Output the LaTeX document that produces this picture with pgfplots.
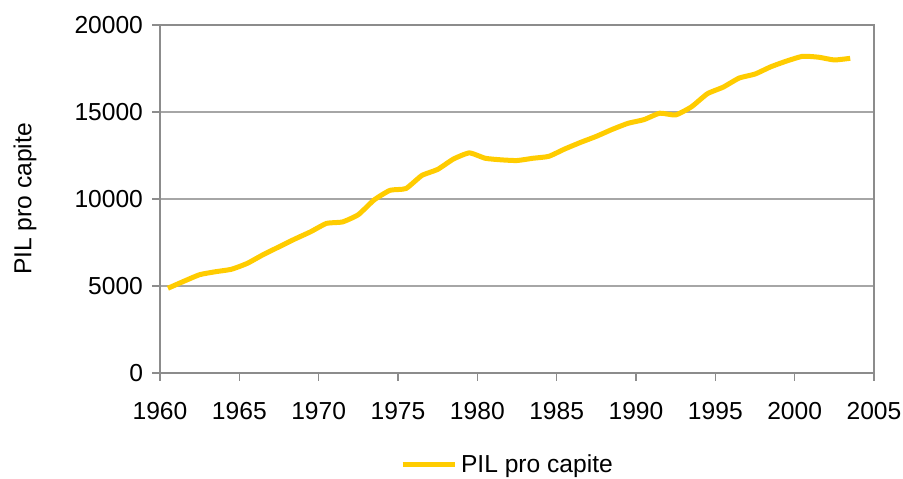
\documentclass[border=0pt]{standalone}
\usepackage{fontspec}
\setmainfont{Liberation Sans}
\usepackage{pgfplots}
\pgfplotsset{compat=1.18}
\definecolor{pilyellow}{HTML}{FFCC00}
\definecolor{axgray}{HTML}{8C8C8C}
\definecolor{gridgray}{HTML}{A6A6A6}
\begin{document}
\begin{tikzpicture}[font=\fontsize{12.3}{14}\selectfont]
\begin{axis}[
  name=ax,
  scale only axis,
  width=357pt, height=174pt,
  xmin=1960, xmax=2005,
  ymin=0, ymax=20000,
  xtick={1960,1965,...,2005},
  ytick={0,5000,10000,15000,20000},
  scaled ticks=false,
  /pgf/number format/1000 sep={},
  /pgf/number format/assume math mode=true,
  tick align=outside,
  major tick length=4pt,
  xtick pos=bottom, ytick pos=left,
  ymajorgrids,
  grid style={gridgray, line width=0.6pt},
  axis line style={axgray, line width=0.8pt},
  tick style={axgray, line width=0.8pt},
  xticklabel style={yshift=-7pt},
  yticklabel style={xshift=-1pt},
  ylabel={PIL pro capite},
  ylabel style={at={(axis description cs:-0.189,0.5)}, anchor=center},
  legend style={draw=none, at={(axis description cs:0.488,-0.264)}, anchor=center, font=\fontsize{12.3}{14}\selectfont},
  legend image code/.code={\draw[#1] (0pt,0pt) -- (26pt,0pt);},
]
\addplot[pilyellow, line width=2.5pt, smooth, tension=0.3] coordinates {
(1960.5,4870) (1961.5,5270) (1962.5,5650) (1963.5,5820) (1964.5,5960)
(1965.5,6300) (1966.5,6800) (1967.5,7250) (1968.5,7700) (1969.5,8120)
(1970.5,8600) (1971.5,8680) (1972.5,9100) (1973.5,9950) (1974.5,10500)
(1975.5,10600) (1976.5,11350) (1977.5,11700) (1978.5,12300) (1979.5,12650)
(1980.5,12340) (1981.5,12250) (1982.5,12210) (1983.5,12340) (1984.5,12450)
(1985.5,12870) (1986.5,13250) (1987.5,13600) (1988.5,14000) (1989.5,14350)
(1990.5,14560) (1991.5,14930) (1992.5,14830) (1993.5,15300) (1994.5,16050)
(1995.5,16430) (1996.5,16950) (1997.5,17180) (1998.5,17600) (1999.5,17930)
(2000.5,18200) (2001.5,18150) (2002.5,17990) (2003.5,18085)
};
\addlegendentry{PIL pro capite}
\end{axis}
\pgfresetboundingbox
\path ([shift={(-80pt,-53pt)}]ax.south west) rectangle ([shift={(14.5pt,12.5pt)}]ax.north east);
\end{tikzpicture}
\end{document}
